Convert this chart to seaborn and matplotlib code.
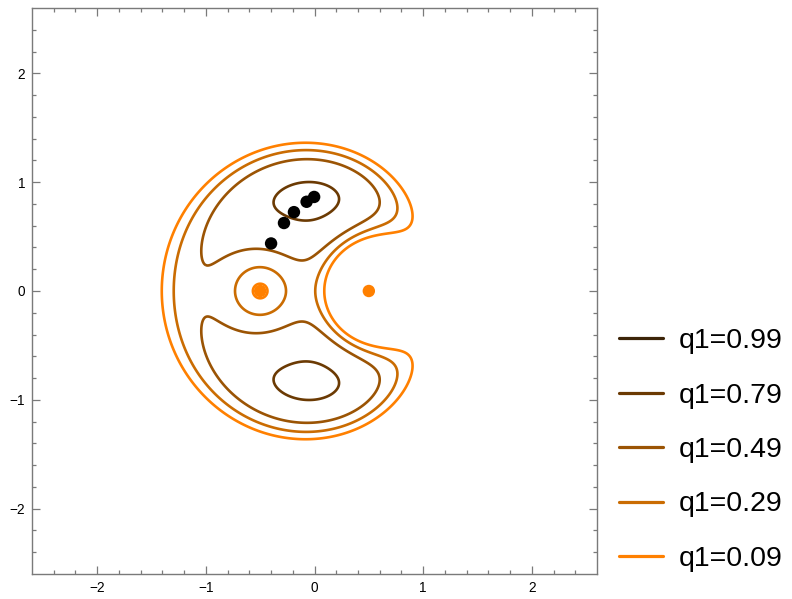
import numpy as np
import matplotlib
matplotlib.use("Agg")
import matplotlib.pyplot as plt
from matplotlib.lines import Line2D
import seaborn as sns
import pandas as pd

# Photogravitational restricted three-body problem, mass ratio 0.5
mu = 0.5
primary_x = [-0.5, 0.5]          # radiating primary P1, ordinary primary P2
jacobi_c = 2.6                   # Jacobi constant of the zero-velocity curves
q1_values = [0.99, 0.79, 0.49, 0.29, 0.09]
q1_labels = ["q1=0.99", "q1=0.79", "q1=0.49", "q1=0.29", "q1=0.09"]
q1_colors = ["#3c2408", "#6b3a03", "#9b5404", "#ca6c02", "#ff8000"]

sns.set_theme(style="ticks")
plt.rcParams["font.family"] = ["Liberation Sans", "DejaVu Sans"]
plt.rcParams["text.color"] = "black"

fig = plt.figure(figsize=(7.92, 5.99), dpi=100)
ax = fig.add_axes([32 / 792, 1 - 574 / 599, 565 / 792, 566 / 599])

grid = np.linspace(-2.6, 2.6, 1201)
X, Y = np.meshgrid(grid, grid)
r1 = np.hypot(X - primary_x[0], Y)
r2 = np.hypot(X - primary_x[1], Y)


def two_omega(q):
    # 2*Omega = x^2 + y^2 + 2(1-mu) q1 / r1 + 2 mu / r2
    return X ** 2 + Y ** 2 + 2 * (1 - mu) * q / r1 + 2 * mu / r2


for q, col in zip(q1_values, q1_colors):
    ax.contour(X, Y, two_omega(q), levels=[jacobi_c], colors=[col],
               linewidths=1.9, zorder=2)

# triangular libration point L4 for each radiation factor
r1_l4 = np.array(q1_values) ** (1 / 3)
l4 = pd.DataFrame({
    "x": primary_x[0] + r1_l4 ** 2 / 2,
    "y": np.sqrt(r1_l4 ** 2 - (r1_l4 ** 2 / 2) ** 2),
})
sns.scatterplot(data=l4, x="x", y="y", color="black", s=80,
                edgecolor="none", ax=ax, zorder=4)

prim = pd.DataFrame({"x": primary_x, "y": [0.0, 0.0]})
sns.scatterplot(data=prim, x="x", y="y", color="#ff8000", s=80,
                edgecolor="none", ax=ax, zorder=3)

ax.set_xlim(-2.6, 2.6)
ax.set_ylim(-2.6, 2.6)
ax.set_xlabel("")
ax.set_ylabel("")
ax.set_xticks([-2, -1, 0, 1, 2])
ax.set_yticks([-2, -1, 0, 1, 2])
minor = [v for v in np.round(np.arange(-2.4, 2.41, 0.2), 1) if abs(v - round(v)) > 1e-6]
ax.set_xticks(minor, minor=True)
ax.set_yticks(minor, minor=True)
ax.tick_params(which="both", direction="in", top=True, right=True,
               color="#7a7a7a", width=0.9, labelsize=9.8, labelcolor="black")
ax.tick_params(which="major", length=5.5, pad=5)
ax.tick_params(which="minor", length=3)
for sp in ax.spines.values():
    sp.set_color("#7a7a7a")
    sp.set_linewidth(1.0)

handles = [Line2D([0], [0], color=c, lw=2.3) for c in q1_colors]
leg = fig.legend(handles, q1_labels, loc="center left",
                 bbox_to_anchor=(619 / 792, 1 - 450 / 599), frameon=False,
                 fontsize=20.5, handlelength=1.55, handletextpad=0.55,
                 labelspacing=1.0, borderpad=0, borderaxespad=0)
for t in leg.get_texts():
    t.set_color("black")

fig.savefig("out.png", dpi=100, facecolor="white")
